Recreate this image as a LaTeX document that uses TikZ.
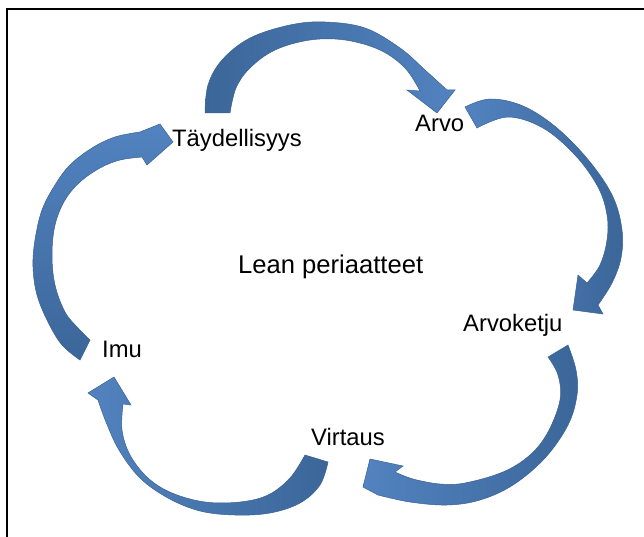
\documentclass[tikz,border=0pt]{standalone}
\usepackage{fontspec}
\setmainfont{Liberation Sans}
\definecolor{arrowlight}{HTML}{5283C0}
\definecolor{arrowdark}{HTML}{3B6699}
\definecolor{arrowedge}{HTML}{3B6292}
\tikzset{
  bendarrow/.style={draw=arrowedge, line width=0.5bp, line join=miter},
  lbl/.style={font=\fontsize{23.8bp}{28bp}\selectfont, anchor=base west, inner sep=0pt, text=black},
  title/.style={lbl, font=\fontsize{25.6bp}{30bp}\selectfont},
  frameline/.style={line width=2bp, draw=black},
}
\begin{document}
\begin{tikzpicture}[x=1bp, y=-1bp]
\useasboundingbox (0,0) rectangle (644,537);
\fill[white] (0,0) rectangle (644,537);

% frame
\draw[frameline] (7,537) -- (7,9) -- (644,9);

% labels
\node[lbl] (taydellisyys) at (172,147) {Täydellisyys};
\node[lbl] (arvo) at (415,132) {Arvo};
\node[lbl] (arvoketju) at (463,331) {Arvoketju};
\node[lbl] (virtaus) at (311,445) {Virtaus};
\node[lbl] (imu) at (102,357) {Imu};
\node[title] (lean) at (238,273) {Lean periaatteet};

% Täydellisyys -> Arvo
\path[bendarrow, left color=arrowdark, right color=arrowlight]
  plot[smooth, tension=0.6] coordinates {(205,113) (208,85) (222,60) (250,38) (290,25) (325,22) (365,28) (400,48) (425,70) (447,90)}
  -- (455,90) -- (437,113) -- (407,90)
  -- plot[smooth, tension=0.6] coordinates {(420,91) (405,68) (380,50) (345,40) (310,40) (275,50) (250,68) (236,88) (230,113)}
  -- cycle;

% Arvo -> Arvoketju
\path[bendarrow, left color=arrowlight, right color=arrowdark]
  plot[smooth, tension=0.6] coordinates {(465,107) (490,99) (523,106) (557,128) (590,162) (613,197) (622,230) (621,258) (612,283) (598,305)}
  -- (603,314) -- (573,310) -- (578,275)
  -- plot[smooth, tension=0.6] coordinates {(587,283) (600,265) (607,240) (607,215) (598,187) (575,155) (543,128) (508,117) (477,128)}
  -- cycle;

% Arvoketju -> Virtaus
\path[bendarrow, left color=arrowlight, right color=arrowdark]
  plot[smooth, tension=0.6] coordinates {(568,345) (576,370) (577,395) (568,425) (545,458) (513,485) (480,500) (447,505) (410,502) (378,495)}
  -- (363,487) -- (370,459) -- (403,466)
  -- plot[smooth, tension=0.6] coordinates {(395,472) (413,479) (440,484) (465,483) (503,472) (530,455) (548,432) (560,400) (558,375) (548,357)}
  -- cycle;

% Virtaus -> Imu
\path[bendarrow, left color=arrowlight, right color=arrowdark]
  plot[smooth, tension=0.6] coordinates {(328,462) (320,485) (300,503) (270,513) (235,515) (200,511) (168,498) (140,478) (119,450) (106,422) (98,400)}
  -- (88,393) -- (114,377) -- (131,405)
  -- plot[smooth, tension=0.6] coordinates {(123,404) (122,430) (130,455) (148,478) (172,493) (205,502) (240,502) (268,495) (290,478) (305,455)}
  -- cycle;

% Imu -> Täydellisyys
\path[bendarrow, top color=arrowlight, bottom color=arrowdark]
  plot[smooth, tension=0.6] coordinates {(80,360) (62,345) (48,322) (37,295) (33,267) (35,240) (42,210) (55,185) (70,165) (92,148) (115,137) (140,132)}
  -- (160,124) -- (173,142) -- (147,165)
  -- plot[smooth, tension=0.6] coordinates {(142,157) (120,160) (100,168) (80,182) (65,200) (55,225) (52,255) (55,285) (65,312) (78,328) (90,340)}
  -- cycle;
\end{tikzpicture}
\end{document}
